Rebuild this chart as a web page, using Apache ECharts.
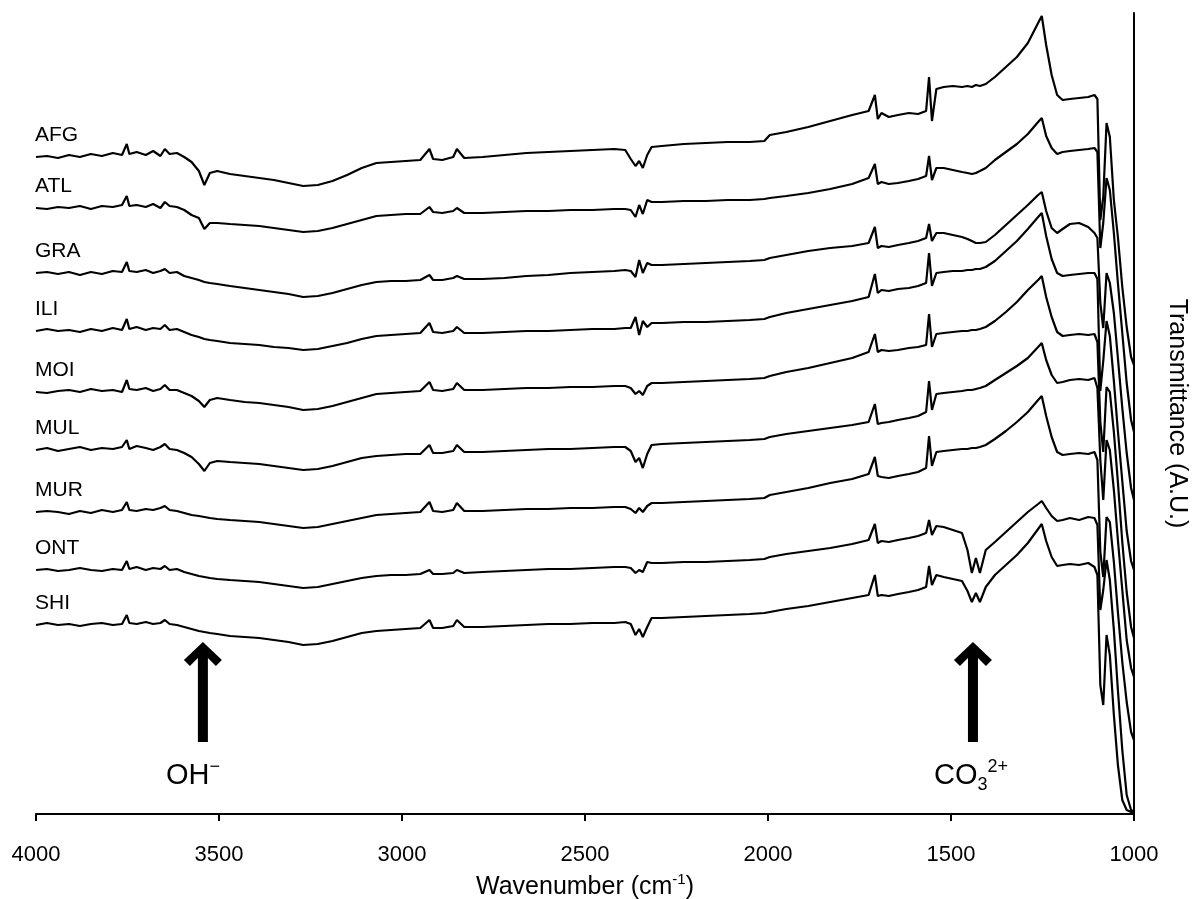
<!DOCTYPE html>
<html>
<head>
<meta charset="utf-8">
<title>FTIR spectra</title>
<script src="https://cdn.jsdelivr.net/npm/echarts@6/dist/echarts.min.js"></script>
<style>
  html, body { margin: 0; padding: 0; background: #ffffff; }
  #chart { width: 1193px; height: 899px; }
</style>
</head>
<body>
<div id="chart"></div>
<script>
// Wavenumber grid shared by every spectrum (cm-1, high to low)
const wavenumbers = [
  4000,3970,3940,3910,3880,3850,3820,3790,3765,3752,
  3745,3725,3700,3680,3660,3648,3635,3615,3595,3575,
  3555,3540,3525,3505,3470,3430,3390,3350,3310,3270,
  3230,3190,3150,3110,3070,3030,2990,2950,2925,2915,
  2890,2860,2850,2830,2780,2720,2660,2600,2540,2480,
  2420,2390,2375,2362,2352,2342,2330,2318,2290,2230,
  2170,2110,2050,2010,1995,1950,1890,1830,1770,1725,
  1708,1700,1690,1670,1645,1615,1590,1568,1560,1552,
  1540,1520,1495,1470,1455,1443,1432,1421,1405,1380,
  1350,1320,1290,1262,1252,1240,1225,1210,1195,1175,
  1150,1125,1108,1100,1092,1084,1075,1066,1055,1044,
  1032,1020,1008,1000
];

// Sample names, top to bottom
const sampleNames = ['AFG', 'ATL', 'GRA', 'ILI', 'MOI', 'MUL', 'MUR', 'ONT', 'SHI'];

// Vertical offset of each trace (A.U.), so the spectra are stacked
const offsets = [657, 606, 541, 483, 422, 364, 302, 244, 189];

// Transmittance of each sample relative to its value at 4000 cm-1 (A.U.)
const AFG = [
  0,1,-1,2,0,3,1,4,2,13,
  3,5,2,6,1,8,3,4,0,-5,
  -14,-28,-16,-14,-17,-19,-21,-23,-26,-29,
  -28,-24,-18,-11,-6,-5,-4,-3,8,-2,
  -3,0,8,-1,0,2,4,5,6,7,
  8,7,-2,-9,-4,-11,2,10,11,13,
  14,15,15,16,22,25,30,36,42,46,
  62,38,44,40,42,44,43,46,80,36,
  68,70,71,70,71,70,72,71,73,80,
  90,100,114,134,141,112,82,62,57,58,
  59,60,62,58,-63,-40,34,20,-43,-80,
  -130,-170,-200,-208
];
const ATL = [
  0,-1,1,0,2,-1,2,1,3,12,
  2,3,1,4,0,6,2,1,-2,-7,
  -10,-21,-15,-15,-16,-17,-18,-20,-22,-24,
  -23,-20,-16,-12,-8,-7,-6,-6,1,-4,
  -5,-3,0,-5,-5,-4,-3,-3,-2,-2,
  -1,-1,-2,-9,3,-6,8,6,6,7,
  7,8,8,9,10,12,15,19,24,30,
  44,24,26,24,25,27,29,32,52,28,
  40,40,38,36,35,34,35,37,40,48,
  56,64,74,86,90,72,60,54,56,57,
  58,59,60,56,-40,-15,30,18,-25,-75,
  -125,-175,-212,-224
];
const GRA = [
  0,1,-1,1,-2,1,-1,2,1,11,
  2,1,3,0,2,4,0,1,-3,-5,
  -7,-9,-10,-11,-13,-15,-17,-19,-21,-24,
  -23,-20,-16,-12,-9,-8,-8,-7,-2,-7,
  -7,-5,-3,-6,-6,-5,-3,-2,0,1,
  2,3,2,-4,13,0,10,8,8,9,
  10,11,12,13,15,18,22,25,27,30,
  46,25,27,26,28,30,32,35,49,32,
  40,40,38,36,34,32,30,30,31,38,
  48,58,68,78,81,62,45,40,44,49,
  50,46,40,35,-30,-55,0,-10,-40,-85,
  -135,-180,-215,-227
];
const ILI = [
  0,2,0,1,-1,2,0,3,1,12,
  2,4,1,3,2,6,1,2,-1,-4,
  -6,-8,-9,-10,-12,-13,-14,-16,-17,-19,
  -18,-15,-12,-8,-5,-4,-3,-2,8,-1,
  -2,0,4,-2,-2,-1,0,0,1,2,
  2,3,3,14,-4,10,4,8,8,9,
  9,10,11,12,14,18,22,26,30,34,
  57,38,41,40,42,43,45,48,78,45,
  58,59,60,60,61,61,62,62,64,70,
  80,90,102,114,118,95,72,58,55,56,
  57,58,58,52,-60,-30,10,-5,-50,-100,
  -150,-200,-230,-239
];
const MOI = [
  0,-1,1,2,0,3,1,2,0,12,
  3,2,4,1,3,7,2,2,-1,-4,
  -9,-15,-8,-6,-8,-10,-11,-13,-15,-18,
  -17,-14,-10,-6,-2,-1,0,1,10,2,
  1,3,9,2,2,3,4,4,5,5,
  6,6,4,-2,1,-3,6,9,9,10,
  11,12,13,14,16,20,24,29,34,40,
  58,40,42,41,42,44,45,47,78,45,
  58,59,60,61,61,62,62,63,65,71,
  80,90,102,112,116,95,75,60,56,57,
  58,57,58,50,-30,-60,5,0,-40,-90,
  -150,-200,-235,-246
];
const MUL = [
  0,2,-1,1,3,0,2,1,3,10,
  1,4,2,0,3,6,1,0,-3,-7,
  -14,-21,-13,-11,-12,-13,-14,-16,-18,-20,
  -19,-16,-12,-8,-6,-5,-4,-4,5,-3,
  -3,-1,5,-2,-2,-1,0,1,1,2,
  3,3,-1,-12,-8,-18,-4,5,6,7,
  8,9,10,11,13,16,19,22,25,28,
  46,26,27,28,30,32,34,38,69,40,
  56,57,58,59,60,60,61,62,64,70,
  77,84,92,103,107,90,75,67,68,70,
  71,70,72,62,-10,-50,10,0,-40,-90,
  -140,-190,-218,-227
];
const MUR = [
  0,1,0,-2,1,-1,2,0,2,10,
  2,1,3,2,4,6,2,1,-1,-3,
  -4,-5,-6,-7,-8,-9,-10,-12,-14,-16,
  -15,-12,-9,-6,-3,-2,-1,0,10,1,
  0,2,9,1,1,2,3,3,4,4,
  5,5,3,-1,4,0,6,9,9,10,
  11,12,13,14,17,20,24,29,33,38,
  55,36,35,34,36,38,40,44,76,46,
  60,61,62,63,63,64,64,65,67,73,
  81,90,100,112,116,96,75,60,57,58,
  59,58,60,52,-40,-65,-5,-10,-50,-100,
  -150,-190,-220,-228
];
const ONT = [
  0,1,-1,0,2,0,-1,1,0,9,
  1,3,0,2,1,4,0,1,-2,-4,
  -6,-7,-8,-9,-10,-11,-12,-14,-16,-18,
  -17,-14,-11,-8,-6,-5,-5,-4,0,-4,
  -4,-3,0,-3,-2,-1,0,1,1,2,
  3,3,2,-3,0,-2,8,7,7,8,
  8,9,10,11,13,16,19,22,26,30,
  46,27,29,28,30,32,34,37,50,35,
  44,43,40,37,20,-3,12,-3,20,28,
  38,48,58,66,69,62,54,49,50,52,
  50,53,52,45,-40,-20,10,-10,-60,-120,
  -180,-225,-240,-242
];
const SHI = [
  0,2,0,1,-1,1,2,0,1,10,
  2,1,3,1,2,5,1,0,-2,-4,
  -6,-7,-8,-9,-11,-12,-13,-15,-17,-20,
  -19,-16,-12,-8,-6,-5,-4,-3,5,-3,
  -3,-1,5,-2,-2,-1,0,1,1,2,
  2,3,1,-10,-4,-12,-2,7,7,8,
  9,10,11,12,13,16,19,23,27,30,
  50,29,30,29,31,33,35,38,59,40,
  50,48,46,44,34,23,32,23,38,50,
  60,70,82,96,101,84,68,59,60,61,
  60,62,58,50,-60,-80,-10,-30,-90,-140,
  -175,-185,-187,-187
];
const spectra = [AFG, ATL, GRA, ILI, MOI, MUL, MUR, ONT, SHI];

// Marked absorption bands
const bandWavenumbers = [3544, 1440];
const bandLabels = ['{b|OH}{sup|\u2212}', '{b|CO}{sub|3}{sup|2+}'];

// ---- layout ----
const FONT = 'Liberation Sans, Arial, Helvetica, sans-serif';
const arrowTail = 72;   // A.U., bottom of the band arrows
const arrowTip = 172;   // A.U., tip of the band arrows

const chart = echarts.init(document.getElementById('chart'), null, { renderer: 'canvas' });

const option = {
  animation: false,
  backgroundColor: '#ffffff',
  textStyle: { fontFamily: FONT, color: '#000' },
  grid: {
    left: 36, right: 59, top: 13, bottom: 85,
    containLabel: false,
    outerBoundsMode: 'none'
  },
  xAxis: {
    type: 'value',
    inverse: true,
    min: 1000,
    max: 4000,
    interval: 500,
    axisLine: { show: true, onZero: false, lineStyle: { color: '#000', width: 2 } },
    axisTick: { show: true, length: 7, lineStyle: { color: '#000', width: 2 } },
    axisLabel: {
      fontSize: 22, color: '#000', fontFamily: FONT, margin: 30,
      formatter: (v) => String(v)
    },
    splitLine: { show: false },
    name: '{t|Wavenumber (cm}{s|-1}{t|)}',
    nameLocation: 'middle',
    nameGap: 58,
    nameTextStyle: {
      rich: {
        t: { fontSize: 25, color: '#000', fontFamily: FONT, lineHeight: 30 },
        s: { fontSize: 15, color: '#000', fontFamily: FONT, lineHeight: 16, verticalAlign: 'top' }
      }
    }
  },
  yAxis: {
    type: 'value',
    position: 'right',
    min: 0,
    max: 801,
    axisLine: { show: true, lineStyle: { color: '#000', width: 2 } },
    axisTick: { show: false },
    axisLabel: { show: false },
    splitLine: { show: false },
    name: 'Transmittance (A.U.)',
    nameLocation: 'middle',
    nameRotate: -90,
    nameGap: 30,
    nameTextStyle: { fontSize: 25, color: '#000', fontFamily: FONT }
  },
  series: sampleNames.map((name, k) => ({
    name: name,
    type: 'line',
    symbol: 'none',
    silent: true,
    clip: true,
    lineStyle: { color: '#000', width: 2.2 },
    data: wavenumbers.map((w, i) => [w, offsets[k] + spectra[k][i]])
  }))
};

chart.setOption(option);

// Sample labels above the start of each trace, band arrows with their labels
function drawAnnotations() {
  const toPx = (w, v) => chart.convertToPixel({ gridIndex: 0 }, [w, v]);
  const elements = [];

  sampleNames.forEach((name, k) => {
    const p = toPx(wavenumbers[0], offsets[k]);
    elements.push({
      type: 'text',
      silent: true,
      x: p[0] - 1,
      y: p[1] - 22,
      style: {
        text: name, fill: '#000', fontSize: 21, fontFamily: FONT,
        align: 'left', verticalAlign: 'middle'
      }
    });
  });

  bandWavenumbers.forEach((w, j) => {
    const tip = toPx(w, arrowTip);
    const tail = toPx(w, arrowTail);
    const x = tip[0];
    const t = tip[1];
    elements.push({
      type: 'polygon',
      silent: true,
      shape: {
        points: [
          [x, t], [x + 19, t + 18], [x + 13, t + 24], [x + 5, t + 16],
          [x + 5, tail[1]], [x - 5, tail[1]], [x - 5, t + 16],
          [x - 13, t + 24], [x - 19, t + 18]
        ]
      },
      style: { fill: '#000' }
    });
    elements.push({
      type: 'text',
      silent: true,
      x: x + (j === 0 ? -10 : -2),
      y: tail[1] + 34,
      style: {
        text: bandLabels[j],
        align: 'center',
        verticalAlign: 'middle',
        rich: {
          b: { fontSize: 29, fontFamily: FONT, fill: '#000', lineHeight: 36 },
          sup: { fontSize: 18, fontFamily: FONT, fill: '#000', lineHeight: 20, verticalAlign: 'top' },
          sub: { fontSize: 18, fontFamily: FONT, fill: '#000', lineHeight: 20, verticalAlign: 'bottom' }
        }
      }
    });
  });

  chart.setOption({ graphic: { elements: elements } });
}

drawAnnotations();
</script>
</body>
</html>
